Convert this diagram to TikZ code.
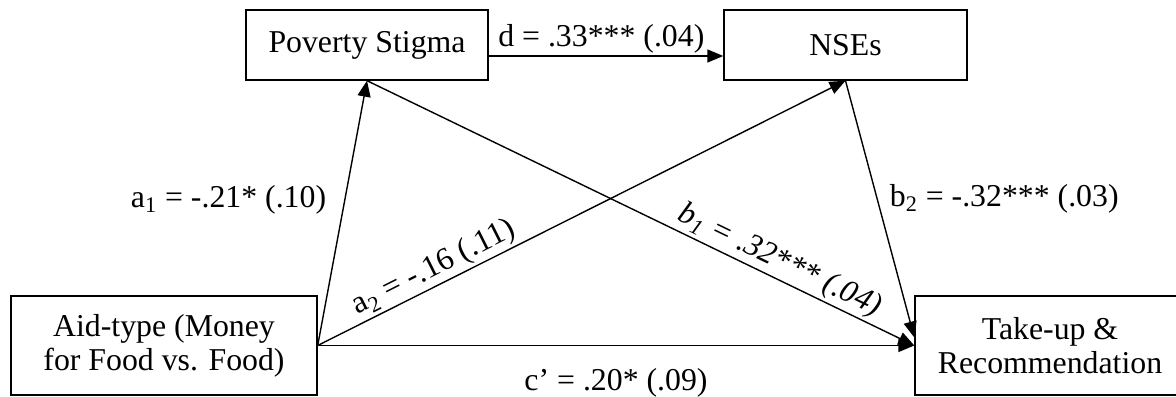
\documentclass[tikz,border=0pt]{standalone}
\usepackage{fontspec}
\setmainfont{Liberation Serif}
\usetikzlibrary{arrows.meta}

\begin{document}
\begin{tikzpicture}[x=0.5pt, y=0.5pt]
    % Define styles for boxes, arrows and coefficients
    \tikzset{
        varbox/.style={draw=black, line width=0.7pt, align=center, inner sep=0pt, font=\fontsize{15.9pt}{17pt}\selectfont},
        effect/.style={draw=black, line width=0.7pt, -{Triangle[length=8pt, width=6.5pt]}},
        coef/.style={inner sep=1pt, font=\fontsize{15.9pt}{17pt}\selectfont}
    }

    \useasboundingbox (0,0) rectangle (1176,396);

    % ==========================================
    % VARIABLES
    % ==========================================
    % Mediators on top, predictor and outcome at the bottom
    \node[varbox, minimum width=121pt, minimum height=35pt] (stigma) at (367,351) {Poverty Stigma};
    \node[varbox, minimum width=121.5pt, minimum height=35pt] (nses) at (845.5,351) {NSEs};
    \node[varbox, minimum width=153pt, minimum height=49.5pt] (aid) at (164,50.5) {Aid-type (Money\\for Food vs. Food)};
    \node[varbox, minimum width=135pt, minimum height=49.5pt] (takeup) at (1050,50.5) {Take-up \&\\Recommendation};

    % ==========================================
    % PATHS
    % ==========================================
    % 1. Aid-type to the two mediators
    \draw[effect] (aid.east) -- (stigma.south) node[coef, pos=0.55, left, xshift=-8pt] {a\textsubscript{1} = -.21* (.10)};
    \draw[effect] (aid.east) -- (nses.south) node[coef, pos=0.235, sloped, above] {a\textsubscript{2} = -.16 (.11)};
    % 2. Between the mediators (a bit below the box middle)
    \draw[effect] ([yshift=-5.5pt]stigma.east) -- ([yshift=-5.5pt]nses.west) node[coef, pos=0.48, above] {d = .33*** (.04)};
    % 3. Mediators to the outcome
    \draw[effect] (stigma.south) -- (takeup.west) node[coef, pos=0.74, sloped, above] {\textit{b\textsubscript{1} = .32*** (.04)}};
    \draw[effect] (nses.south) -- ([yshift=4pt]takeup.west) node[coef, pos=0.46, right, xshift=5pt] {b\textsubscript{2} = -.32*** (.03)};
    % 4. Direct effect
    \draw[effect] (aid.east) -- (takeup.west) node[coef, midway, below, yshift=-10pt] {c’ = .20* (.09)};

\end{tikzpicture}
\end{document}
